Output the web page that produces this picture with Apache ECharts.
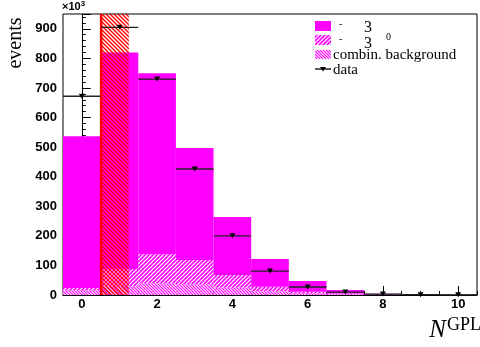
<!DOCTYPE html>
<html>
<head>
<meta charset="utf-8">
<script src="https://cdn.jsdelivr.net/npm/echarts@6/dist/echarts.min.js"></script>
<style>
  html, body { margin: 0; padding: 0; background: #fff; }
  #chart { width: 480px; height: 347px; }
</style>
</head>
<body>
<div id="chart"></div>
<script>
// Bin centres of the N^GPL distribution (unit-wide bins)
const bins = [0, 1, 2, 3, 4, 5, 6, 7, 8, 9, 10];
// Stacked MC components, events per bin
const tau3pi   = [513, 732, 612, 379, 196, 94, 36, 12, 2, 0.7, 0.2];
const tau3pi0  = [8, 58, 98, 82, 43, 15, 5, 2, 1, 0.4, 0.1];
const combBkg  = [16, 30, 40, 36, 25, 13, 6, 3, 1, 0.4, 0.2];
// Measured events per bin
const dataEvents = [672, 905, 730, 426, 200, 81, 27, 10, 3, 1, 0.5];
// Excluded N^GPL range
const cutRange = [0.5, 1.25];
// Axis ticks
const xTickLabels = [0, 2, 4, 6, 8, 10];
const yTickStep = 100;
const yMax = 950;

const MAGENTA = '#ff00ff';
const RED = '#ff0000';

function hatch(color, bg, dir, size, lw) {
  const c = document.createElement('canvas');
  c.width = size; c.height = size;
  const ctx = c.getContext('2d');
  if (bg) { ctx.fillStyle = bg; ctx.fillRect(0, 0, size, size); }
  ctx.strokeStyle = color;
  ctx.lineWidth = lw;
  ctx.beginPath();
  if (dir === '/') {
    ctx.moveTo(0, size); ctx.lineTo(size, 0);
    ctx.moveTo(-1, 1); ctx.lineTo(1, -1);
    ctx.moveTo(size - 1, size + 1); ctx.lineTo(size + 1, size - 1);
  } else {
    ctx.moveTo(0, 0); ctx.lineTo(size, size);
    ctx.moveTo(-1, size - 1); ctx.lineTo(1, size + 1);
    ctx.moveTo(size - 1, -1); ctx.lineTo(size + 1, 1);
  }
  ctx.stroke();
  return { image: c, repeat: 'repeat' };
}

const pi0Fill  = hatch(MAGENTA, '#ffffff', '/', 4, 1.6);
const bkgFill  = hatch(MAGENTA, '#ffffff', '\\', 3, 1.2);
const cutFill  = hatch(RED, null, '\\', 4, 1.4);

// cumulative stack boundaries
const lvl0 = bins.map(() => 0);
const lvl1 = combBkg.slice();
const lvl2 = lvl1.map((v, i) => v + tau3pi0[i]);
const lvl3 = lvl2.map((v, i) => v + tau3pi[i]);

function stackLayer(name, lo, hi, fill) {
  return {
    type: 'custom',
    name: name,
    xAxisIndex: 0,
    yAxisIndex: 0,
    data: bins.map((b, i) => [b, lo[i], hi[i]]),
    renderItem: function (params, api) {
      const x = api.value(0);
      const p0 = api.coord([x - 0.5, api.value(1)]);
      const p1 = api.coord([x + 0.5, api.value(2)]);
      return {
        type: 'rect',
        shape: { x: p0[0], y: p1[1], width: p1[0] - p0[0], height: p0[1] - p1[1] },
        style: { fill: fill }
      };
    },
    silent: true,
    z: 2
  };
}

const chart = echarts.init(document.getElementById('chart'), null, { renderer: 'canvas' });

const tickFont = { fontFamily: 'Liberation Sans', fontWeight: 'bold', fontSize: 13, color: '#000' };

const option = {
  animation: false,
  backgroundColor: '#fff',
  grid: {
    left: 63, right: 3, top: 14, bottom: 52,
    show: true, borderColor: '#000', borderWidth: 1, backgroundColor: 'transparent'
  },
  xAxis: [
    {
      type: 'value', min: -0.5, max: 10.5, interval: 0.5, position: 'bottom',
      axisLine: { show: true, lineStyle: { color: '#000', width: 1 } },
      axisTick: { show: true, inside: true, length: 4, lineStyle: { color: '#000' } },
      axisLabel: { show: false },
      splitLine: { show: false }
    },
    {
      type: 'value', min: -0.5, max: 10.5, position: 'bottom',
      axisLine: { show: false },
      axisTick: { show: true, inside: true, length: 9, customValues: xTickLabels, lineStyle: { color: '#000' } },
      axisLabel: Object.assign({ show: true, margin: 3, customValues: xTickLabels }, tickFont),
      splitLine: { show: false }
    }
  ],
  yAxis: {
    type: 'value', min: 0, max: yMax, interval: yTickStep,
    axisLine: { show: true, lineStyle: { color: '#000', width: 1 } },
    axisTick: { show: true, inside: true, length: 9, lineStyle: { color: '#000' } },
    minorTick: { show: true, splitNumber: 5, length: 4, lineStyle: { color: '#000' } },
    axisLabel: Object.assign({ show: true, margin: 6, showMaxLabel: false }, tickFont),
    splitLine: { show: false }
  },
  series: [
    stackLayer('combin. background', lvl0, lvl1, bkgFill),
    stackLayer('tau3pi0', lvl1, lvl2, pi0Fill),
    stackLayer('tau3pi', lvl2, lvl3, MAGENTA),
    {
      // excluded region: hatched band and its lower edge
      type: 'custom',
      xAxisIndex: 0,
      yAxisIndex: 0,
      data: [[cutRange[0], cutRange[1]]],
      renderItem: function (params, api) {
        const p0 = api.coord([api.value(0), 0]);
        const p1 = api.coord([api.value(1), yMax]);
        return {
          type: 'group',
          children: [
            { type: 'rect', shape: { x: p0[0], y: p1[1], width: p1[0] - p0[0], height: p0[1] - p1[1] }, style: { fill: cutFill } },
            { type: 'line', shape: { x1: p0[0] + 0.5, y1: p1[1], x2: p0[0] + 0.5, y2: p0[1] }, style: { stroke: RED, lineWidth: 2.5 } }
          ]
        };
      },
      silent: true,
      z: 3
    },
    {
      // data: bin-width error bars with triangle markers
      type: 'custom',
      name: 'data',
      xAxisIndex: 0,
      yAxisIndex: 0,
      data: bins.map((b, i) => [b, dataEvents[i]]),
      renderItem: function (params, api) {
        const x = api.value(0), y = api.value(1);
        const a = api.coord([x - 0.5, y]);
        const b = api.coord([x + 0.5, y]);
        const c = api.coord([x, y]);
        return {
          type: 'group',
          children: [
            { type: 'line', shape: { x1: a[0], y1: a[1], x2: b[0], y2: b[1] }, style: { stroke: '#222', lineWidth: 1.3 } },
            { type: 'polygon', shape: { points: [[c[0] - 3, c[1] - 2.5], [c[0] + 3, c[1] - 2.5], [c[0], c[1] + 2.5]] }, style: { fill: '#000' } }
          ]
        };
      },
      silent: true,
      z: 4
    }
  ],
  graphic: [
    {
      type: 'text', left: 62, top: 0,
      style: {
        text: '×10{s|3}',
        fontFamily: 'Liberation Sans', fontWeight: 'bold', fontSize: 11, fill: '#000',
        rich: { s: { fontFamily: 'Liberation Sans', fontWeight: 'bold', fontSize: 8, verticalAlign: 'top', padding: [0, 0, 5, 0] } }
      }
    },
    {
      type: 'text', x: 16, y: 43, rotation: Math.PI / 2,
      style: { text: 'events', fontFamily: 'Liberation Serif', fontSize: 20, fill: '#000', align: 'center', verticalAlign: 'middle' }
    },
    {
      type: 'text', x: 481, y: 330,
      style: {
        text: '{n|N}{g|GPL}',
        align: 'right', verticalAlign: 'middle',
        rich: {
          n: { fontFamily: 'Liberation Serif', fontStyle: 'italic', fontSize: 25, fill: '#000' },
          g: { fontFamily: 'Liberation Serif', fontSize: 18, fill: '#000', padding: [0, 0, 9, 1] }
        }
      }
    },
    // legend
    { type: 'rect', shape: { x: 315, y: 21, width: 16, height: 10 }, style: { fill: MAGENTA } },
    { type: 'text', x: 339, y: 24, style: { text: '-', fontFamily: 'Liberation Serif', fontSize: 10, fill: '#000', verticalAlign: 'middle' } },
    { type: 'text', x: 364, y: 28, style: { text: '3', fontFamily: 'Liberation Serif', fontSize: 16, fill: '#000', verticalAlign: 'middle' } },
    { type: 'rect', shape: { x: 315, y: 35, width: 16, height: 10 }, style: { fill: pi0Fill } },
    { type: 'text', x: 339, y: 39, style: { text: '-', fontFamily: 'Liberation Serif', fontSize: 10, fill: '#000', verticalAlign: 'middle' } },
    { type: 'text', x: 364, y: 44, style: { text: '3', fontFamily: 'Liberation Serif', fontSize: 16, fill: '#000', verticalAlign: 'middle' } },
    { type: 'text', x: 386, y: 37, style: { text: '0', fontFamily: 'Liberation Serif', fontSize: 10, fill: '#000', verticalAlign: 'middle' } },
    { type: 'rect', shape: { x: 315, y: 50, width: 16, height: 9 }, style: { fill: bkgFill } },
    { type: 'text', x: 333, y: 55, style: { text: 'combin. background', fontFamily: 'Liberation Serif', fontSize: 15, fill: '#000', verticalAlign: 'middle' } },
    { type: 'line', shape: { x1: 315, y1: 69, x2: 331, y2: 69 }, style: { stroke: '#000', lineWidth: 1.3 } },
    { type: 'polygon', shape: { points: [[320, 67], [326, 67], [323, 71.5]] }, style: { fill: '#000' } },
    { type: 'text', x: 333, y: 70, style: { text: 'data', fontFamily: 'Liberation Serif', fontSize: 15, fill: '#000', verticalAlign: 'middle' } }
  ]
};

chart.setOption(option);
</script>
</body>
</html>
